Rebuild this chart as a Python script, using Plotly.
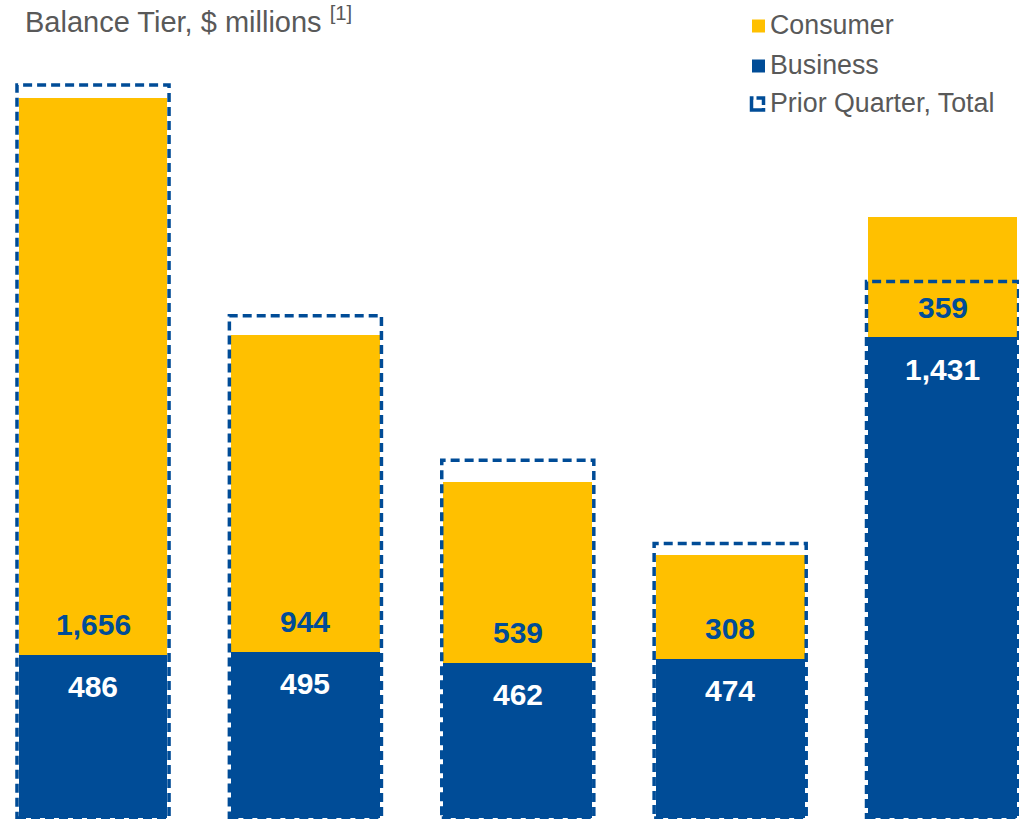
import plotly.graph_objects as go

# Balance tiers, $ millions
business = [486, 495, 462, 474, 1431]
consumer = [1656, 944, 539, 308, 359]
prior_total = [2182, 1495, 1065, 817, 1597]

BLUE = "#004C97"
YELLOW = "#FFC000"
GRAY = "#595959"
FONT = "Arial, Liberation Sans, sans-serif"

W, H = 1019, 819
positions = list(range(len(business)))
BAR_W = 0.70
OUTLINE_HALF = 0.358

fig = go.Figure()
fig.add_trace(go.Bar(x=positions, y=business, width=BAR_W, marker=dict(color=BLUE, line=dict(width=0)),
                     name="Business", showlegend=False, hoverinfo="skip"))
fig.add_trace(go.Bar(x=positions, y=consumer, width=BAR_W, marker=dict(color=YELLOW, line=dict(width=0)),
                     name="Consumer", showlegend=False, hoverinfo="skip"))

shapes = []
annotations = []

# Dashed outline of the prior-quarter total around each bar
for i, tot in zip(positions, prior_total):
    shapes.append(dict(type="rect", xref="x", yref="y", x0=i - OUTLINE_HALF, x1=i + OUTLINE_HALF,
                       y0=0, y1=tot, line=dict(color=BLUE, width=3.5, dash="9px,5px"),
                       fillcolor="rgba(0,0,0,0)", layer="above"))

# Value labels next to the business/consumer boundary
for i, b, c in zip(positions, business, consumer):
    annotations.append(dict(x=i, y=b, xref="x", yref="y", text=f"{b:,}", showarrow=False,
                            yshift=-32, font=dict(family=FONT, size=30, color="white", weight="bold")))
    annotations.append(dict(x=i, y=b, xref="x", yref="y", text=f"{c:,}", showarrow=False,
                            yshift=30, font=dict(family=FONT, size=30, color=BLUE, weight="bold")))

def px(x):
    return x / W

def py(y):
    return 1 - y / H

# Chart heading
annotations.append(dict(x=px(23), y=py(20), xref="paper", yref="paper", xanchor="left", yanchor="middle",
                        text="Balance Tier, $ millions <sup style='font-size:19px'>[1]</sup>", showarrow=False,
                        font=dict(family=FONT, size=29, color=GRAY)))

# Legend
legend_items = [("Consumer", 26, YELLOW), ("Business", 66, BLUE), ("Prior Quarter, Total", 104, None)]
for label, yc, color in legend_items:
    if color is not None:
        shapes.append(dict(type="rect", xref="paper", yref="paper", x0=px(752), x1=px(765),
                           y0=py(yc + 6.5), y1=py(yc - 6.5), fillcolor=color, line=dict(width=0)))
    else:
        shapes.append(dict(type="rect", xref="paper", yref="paper", x0=px(751.5), x1=px(763.5),
                           y0=py(yc + 6), y1=py(yc - 6), fillcolor="rgba(0,0,0,0)",
                           line=dict(color=BLUE, width=3.5, dash="14px,3px")))
    annotations.append(dict(x=px(768), y=py(yc - 1), xref="paper", yref="paper", xanchor="left",
                            yanchor="middle", text=label, showarrow=False,
                            font=dict(family=FONT, size=26.8, color=GRAY)))

fig.update_layout(
    width=W, height=H,
    margin=dict(l=0, r=0, t=0, b=0),
    barmode="stack",
    paper_bgcolor="white", plot_bgcolor="white",
    showlegend=False,
    xaxis=dict(range=[-0.438, 4.360], visible=False, fixedrange=True),
    yaxis=dict(range=[-3, 2435], visible=False, fixedrange=True),
    shapes=shapes,
    annotations=annotations,
)

fig.write_html("out.html")
